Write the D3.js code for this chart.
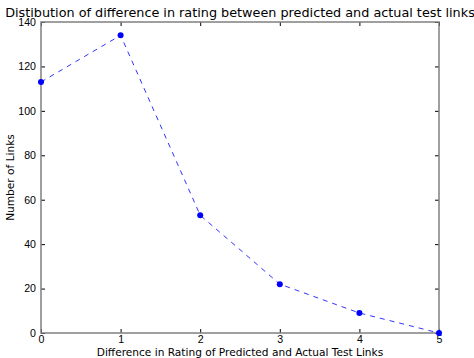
<!DOCTYPE html>
<html>
<head>
<meta charset="utf-8">
<style>
body { margin: 0; background: #fff; }
svg { font-family: "DejaVu Sans", sans-serif; }
.axis .domain { display: none; }
.axis text { font-size: 10.6px; fill: #000; }
.axis line { stroke: #000; }
</style>
</head>
<body>
<svg width="474" height="358"></svg>
<script src="https://d3js.org/d3.v7.min.js"></script>
<script>
// rating difference vs number of links
var diffs = [0, 1, 2, 3, 4, 5];
var counts = [113, 134, 53, 22, 9, 0];
var xTicks = [0, 1, 2, 3, 4, 5];
var yTicks = [0, 20, 40, 60, 80, 100, 120, 140];

var svg = d3.select("svg"),
    margin = {top: 22, right: 35, bottom: 25, left: 41},
    width = +svg.attr("width") - margin.left - margin.right,
    height = +svg.attr("height") - margin.top - margin.bottom,
    g = svg.append("g").attr("transform", "translate(" + margin.left + "," + margin.top + ")");

var x = d3.scaleLinear().domain([0, 5]).range([0, width]);
var y = d3.scaleLinear().domain([0, 140]).range([height, 0]);

// inward ticks on all four sides, matplotlib style
g.append("g")
    .attr("class", "axis")
    .attr("transform", "translate(0," + height + ")")
    .call(d3.axisBottom(x).tickValues(xTicks).tickFormat(d3.format("d")).tickSizeInner(-4).tickSizeOuter(0).tickPadding(2));
g.append("g")
    .attr("class", "axis")
    .call(d3.axisTop(x).tickValues(xTicks).tickSizeInner(-4).tickSizeOuter(0).tickFormat(""));
g.append("g")
    .attr("class", "axis")
    .call(d3.axisLeft(y).tickValues(yTicks).tickFormat(d3.format("d")).tickSizeInner(-4).tickSizeOuter(0).tickPadding(5));
g.append("g")
    .attr("class", "axis")
    .attr("transform", "translate(" + width + ",0)")
    .call(d3.axisRight(y).tickValues(yTicks).tickSizeInner(-4).tickSizeOuter(0).tickFormat(""));

g.append("rect")
    .attr("width", width)
    .attr("height", height)
    .attr("fill", "none")
    .attr("stroke", "#808080")
    .attr("stroke-width", 1.5);

var line = d3.line()
    .x(function(d, i) { return x(diffs[i]); })
    .y(function(d) { return y(d); });

g.append("path")
    .datum(counts)
    .attr("fill", "none")
    .attr("stroke", "#3333ff")
    .attr("stroke-width", 1)
    .attr("stroke-dasharray", "5,5")
    .attr("d", line);

g.selectAll("circle")
    .data(counts)
    .enter().append("circle")
      .attr("cx", function(d, i) { return x(diffs[i]); })
      .attr("cy", function(d) { return y(d); })
      .attr("r", 3)
      .attr("fill", "#0000ff");

svg.append("text")
    .attr("x", margin.left + width / 2)
    .attr("y", 17)
    .attr("text-anchor", "middle")
    .attr("font-size", 12.8)
    .text("Distibution of difference in rating between predicted and actual test links");

svg.append("text")
    .attr("x", margin.left + width / 2)
    .attr("y", 356)
    .attr("text-anchor", "middle")
    .attr("font-size", 10.6)
    .text("Difference in Rating of Predicted and Actual Test Links");

svg.append("text")
    .attr("transform", "translate(14," + (margin.top + height / 2) + ") rotate(-90)")
    .attr("text-anchor", "middle")
    .attr("font-size", 10.6)
    .text("Number of Links");
</script>
</body>
</html>
